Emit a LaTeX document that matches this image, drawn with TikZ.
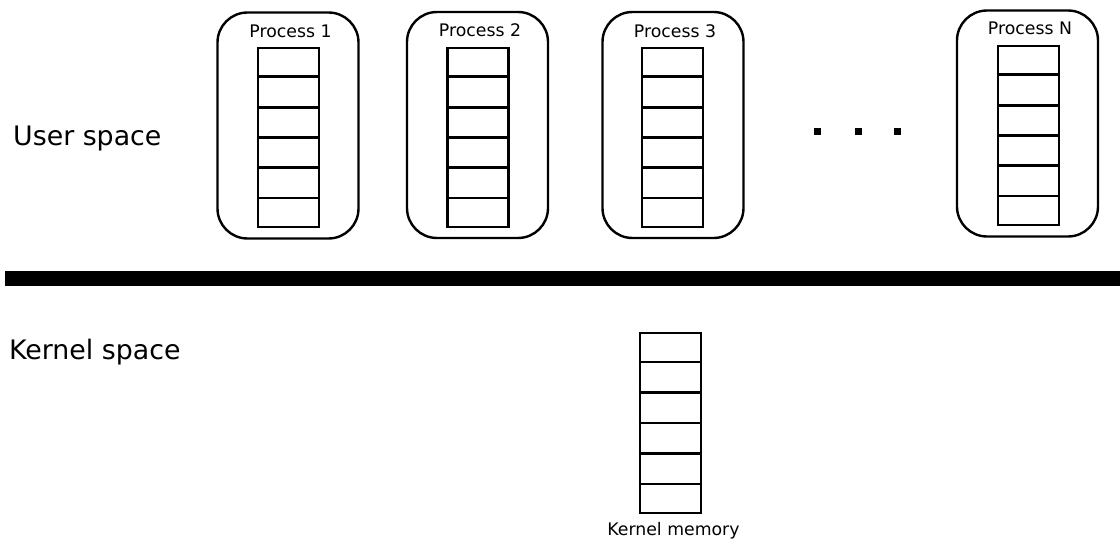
\documentclass[tikz,border=0pt]{standalone}
\usepackage{fontspec}
\setmainfont{DejaVu Sans}
\usetikzlibrary{calc}
\begin{document}
\begin{tikzpicture}[x=1pt,y=-1pt,
  procbox/.style={draw,line width=2.4pt,rounded corners=30pt,minimum width=141pt,minimum height=226pt,inner sep=0pt},
  stackbox/.style={draw,line width=2.8pt,minimum width=61pt,minimum height=179pt,inner sep=0pt},
  cellline/.style={line width=2.8pt},
  proclabel/.style={anchor=base,inner sep=0pt,font=\fontsize{17.3}{20}\selectfont},
  spacelabel/.style={anchor=base west,inner sep=0pt,font=\fontsize{26.8}{32}\selectfont},
  dot/.style={fill=black,minimum size=7pt,inner sep=0pt}]
\useasboundingbox (0,0) rectangle (1120,543);

% process frames
\node[procbox] (p1) at (288,125.5) {};
\node[procbox] (p2) at (477.5,125) {};
\node[procbox] (p3) at (673,125) {};
\node[procbox] (pN) at (1027.5,123.5) {};

% process memory stacks
\node[stackbox] (s1) at (288.5,137.5) {};
\node[stackbox] (s2) at (478,137.5) {};
\node[stackbox] (s3) at (672.5,137.5) {};
\node[stackbox] (sN) at (1028.5,135.5) {};
\node[stackbox,minimum height=180pt] (sK) at (670.5,423) {};

% cell separators
\foreach \s in {s1,s2,s3,sN,sK}{
  \foreach \i in {1,...,5}{
    \draw[cellline] ($(\s.north west)!\i/6!(\s.south west)$) -- ($(\s.north east)!\i/6!(\s.south east)$);
  }
}

% labels
\node[proclabel] (l1) at (290.5,38) {Process 1};
\node[proclabel] (l2) at (480,37) {Process 2};
\node[proclabel] (l3) at (675,38) {Process 3};
\node[proclabel] (lN) at (1030,35) {Process N};
\node[proclabel] (lK) at (673.5,535) {Kernel memory};

\node[spacelabel] (user) at (13,145) {User space};
\node[spacelabel] (kernel) at (9,359) {Kernel space};

% user/kernel boundary
\node[fill=black,minimum width=1115pt,minimum height=15pt,inner sep=0pt,anchor=north west] (divider) at (5,271) {};

% ellipsis
\node[dot] (d1) at (817,131) {};
\node[dot] (d2) at (858,131) {};
\node[dot] (d3) at (897,131) {};
\end{tikzpicture}
\end{document}
